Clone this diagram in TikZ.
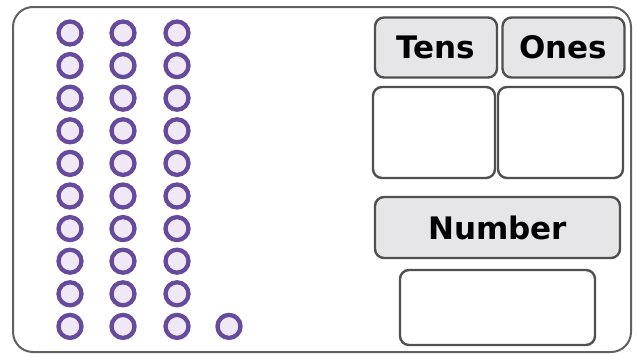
\documentclass[tikz,border=0pt]{standalone}
\usepackage{fontspec}
\setmainfont{DejaVu Sans}
\definecolor{beadline}{HTML}{654A9E}
\definecolor{beadfill}{HTML}{F1E8F6}
\definecolor{boxline}{HTML}{505050}
\definecolor{headfill}{HTML}{E6E6E9}
\tikzset{
  bead/.style={circle, draw=beadline, fill=beadfill, line width=4.3pt, minimum size=23pt, inner sep=0pt},
  headbox/.style={draw=boxline, fill=headfill, line width=2.4pt, rounded corners=9pt, inner sep=0pt, font=\fontsize{31}{34}\selectfont\bfseries},
  emptybox/.style={draw=boxline, fill=white, line width=2.4pt, rounded corners=9pt, inner sep=0pt},
}
\begin{document}
\begin{tikzpicture}[x=1pt,y=-1pt]
\useasboundingbox (0,0) rectangle (637,356);
\draw[draw=boxline!90, line width=2pt, rounded corners=20pt, fill=white] (13,7) rectangle (631,352);
\foreach \c/\x in {1/70,2/123,3/177}{
  \foreach \r in {1,...,10}{
    \node[bead] (c\c-\r) at (\x,{33+(\r-1)*32.6}) {};
  }
}
\node[bead] (c4-10) at (229,326.4) {};
\node[headbox, minimum width=122pt, minimum height=60pt] (tensh) at (436,47.5) {Tens};
\node[headbox, minimum width=122pt, minimum height=60pt] (onesh) at (563.5,47.5) {Ones};
\node[emptybox, minimum width=122pt, minimum height=91pt] (tensb) at (434,132.5) {};
\node[emptybox, minimum width=125pt, minimum height=91pt] (onesb) at (560.5,132.5) {};
\node[headbox, minimum width=245pt, minimum height=61pt] (numh) at (497.5,227.5) {Number};
\node[emptybox, minimum width=195pt, minimum height=75pt] (numb) at (497.5,307.5) {};
\end{tikzpicture}
\end{document}
